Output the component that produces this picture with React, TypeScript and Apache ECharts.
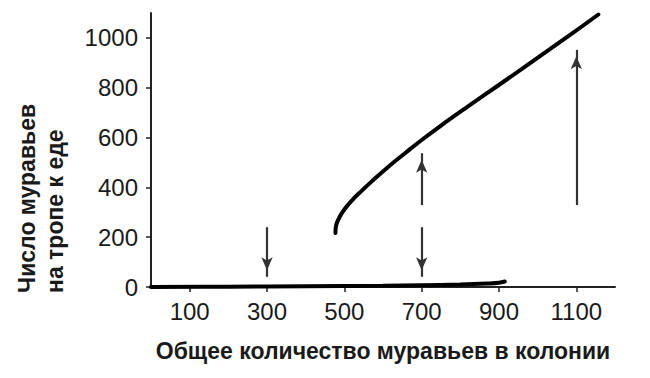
import React, { useEffect, useRef } from "react";
import * as echarts from "echarts";

const xTickValues = [100, 300, 500, 700, 900, 1100];
const yTickValues = [0, 200, 400, 600, 800, 1000];

const lowerBranch: [number, number][] = [
  [0, 0], [200, 1], [400, 3], [600, 5], [700, 7], [800, 10], [870, 14], [900, 17], [915, 22],
];

const upperBranch: [number, number][] = [
  [477, 217], [479, 249], [488, 282], [501, 313], [518, 345], [544, 385], [571, 424],
  [614, 483], [657, 537], [700, 590], [750, 648], [807, 711], [868, 777], [920, 833],
  [1006, 927], [1092, 1021], [1157, 1094],
];

// arrows: x position, start value, tip value
const arrowX = [300, 700, 700, 1100];
const arrowFrom = [240, 240, 329, 329];
const arrowTo = [41, 41, 537, 952];

const FONT = "'Liberation Sans', Arial, Helvetica, sans-serif";
const TEXT = "#1a1a1a";

export default function App() {
  const ref = useRef<HTMLDivElement>(null);
  useEffect(() => {
    document.body.style.margin = "0";
    if (!ref.current) return;
    const chart = echarts.init(ref.current, undefined, { renderer: "svg" });
    const arrowData = arrowX.map((x, i) => [
      { coord: [x, arrowFrom[i]] },
      { coord: [x, arrowTo[i]] },
    ]);
    chart.setOption({
      animation: false,
      backgroundColor: "#ffffff",
      grid: { left: 151, right: 35, top: 13, bottom: 91, containLabel: false },
      xAxis: {
        type: "value",
        min: 0,
        max: 1200,
        name: "Общее количество муравьев в колонии",
        nameLocation: "middle",
        nameGap: 52,
        nameTextStyle: { fontFamily: FONT, fontSize: 23, fontWeight: "bold", color: TEXT },
        axisLine: { show: true, onZero: false, lineStyle: { color: "#222", width: 2 } },
        axisTick: { show: true, inside: false, length: 5, customValues: xTickValues, lineStyle: { color: "#222", width: 1.5 } },
        axisLabel: {
          customValues: xTickValues,
          margin: 12,
          fontFamily: FONT,
          fontSize: 24,
          color: TEXT,
          formatter: (v: number) => String(v),
        },
        splitLine: { show: false },
      },
      yAxis: {
        type: "value",
        min: 0,
        max: 1100,
        axisLine: { show: true, onZero: false, lineStyle: { color: "#222", width: 2 } },
        axisTick: { show: true, inside: false, length: 5, customValues: yTickValues, lineStyle: { color: "#222", width: 1.5 } },
        axisLabel: {
          customValues: yTickValues,
          margin: 13,
          fontFamily: FONT,
          fontSize: 24,
          color: TEXT,
          formatter: (v: number) => String(v),
        },
        splitLine: { show: false },
      },
      graphic: [
        {
          type: "text",
          x: 41,
          y: 293,
          rotation: Math.PI / 2,
          style: {
            text: "Число муравьев\nна тропе к еде",
            fontFamily: FONT,
            fontSize: 23,
            fontWeight: "bold",
            lineHeight: 28,
            align: "left",
            verticalAlign: "middle",
            fill: TEXT,
          },
        },
      ],
      series: [
        {
          type: "line",
          data: lowerBranch,
          smooth: 0.4,
          showSymbol: false,
          silent: true,
          lineStyle: { color: "#000", width: 4, cap: "round" },
          markLine: {
            silent: true,
            symbol: ["none", "arrow"],
            symbolSize: [8.5, 13],
            symbolOffset: [[0, 0], [0, 6.5]],
            label: { show: false },
            lineStyle: { type: "solid", color: "#333", width: 2.2 },
            itemStyle: { color: "#333" },
            emphasis: { disabled: true },
            data: arrowData,
          },
        },
        {
          type: "line",
          data: upperBranch,
          smooth: 0.4,
          showSymbol: false,
          silent: true,
          lineStyle: { color: "#000", width: 4, cap: "round" },
        },
      ],
    });
    return () => chart.dispose();
  }, []);
  return <div ref={ref} style={{ width: 650, height: 378 }} />;
}
